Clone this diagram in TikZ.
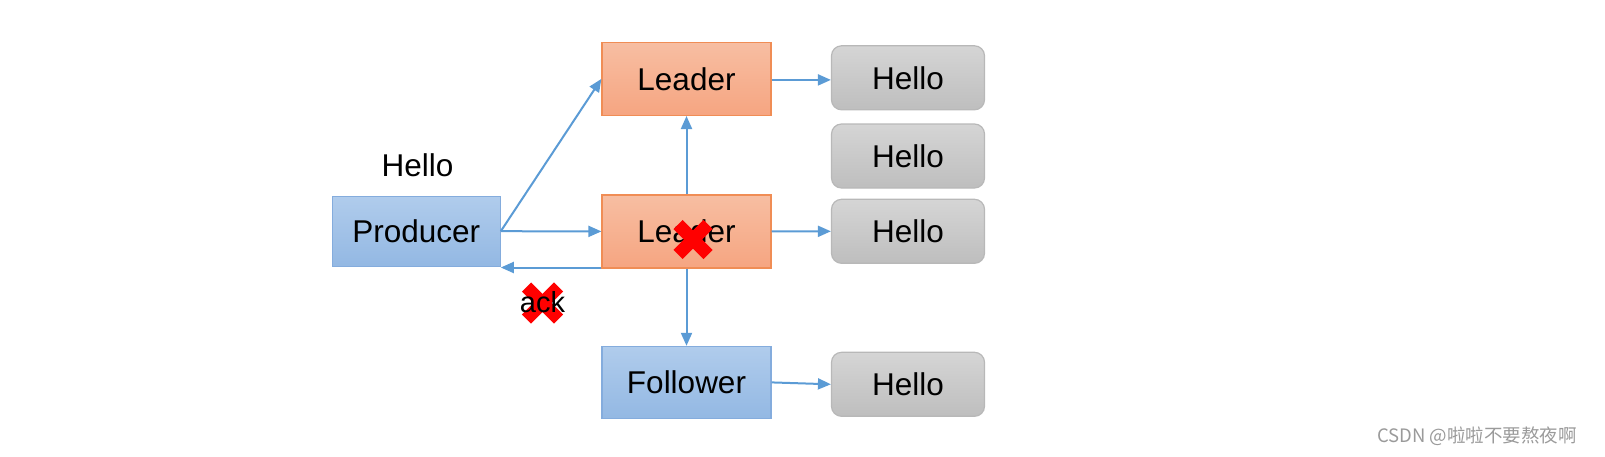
\documentclass[tikz,border=0pt]{standalone}
\usepackage{fontspec}
\setmainfont{Liberation Sans}
\newfontfamily\cjkfont{Noto Sans CJK SC}
\usetikzlibrary{arrows.meta}
\definecolor{arrowblue}{HTML}{5B9BD5}
\definecolor{bluetop}{HTML}{B0CCEC}
\definecolor{bluebot}{HTML}{93B8E3}
\definecolor{blueedge}{HTML}{84ACDD}
\definecolor{orgtop}{HTML}{F7BEA2}
\definecolor{orgbot}{HTML}{F6A581}
\definecolor{orgedge}{HTML}{F08D55}
\definecolor{graytop}{HTML}{D5D5D5}
\definecolor{graybot}{HTML}{BEBEBE}
\definecolor{grayedge}{HTML}{B8B8B8}
\definecolor{wmgray}{HTML}{9A9A9A}
\tikzset{
  bigtext/.style={font=\fontsize{31.5}{36}\selectfont, text=black},
  bluebox/.style={bigtext, draw=blueedge, line width=1.2pt, top color=bluetop, bottom color=bluebot, minimum width=168pt, minimum height=70pt, inner sep=0pt},
  orgbox/.style={bigtext, draw=orgedge, line width=1.2pt, top color=orgtop, bottom color=orgbot, minimum width=169pt, minimum height=73pt, inner sep=0pt},
  graybox/.style={bigtext, draw=grayedge, line width=1.2pt, top color=graytop, bottom color=graybot, rounded corners=10pt, minimum width=153pt, minimum height=64pt, inner sep=0pt},
  conn/.style={draw=arrowblue, line width=2pt, -{Triangle[length=13pt,width=11pt]}},
  redx/.style={draw=red, line width=13pt}
}
\begin{document}
\begin{tikzpicture}[x=1pt,y=-1pt]
\useasboundingbox (0,0) rectangle (1605,456);
\node[bluebox] (P) at (416.2,231.2) {Producer};
\node[bigtext] (HL) at (417.6,165.5) {Hello};
\node[orgbox] (L1) at (686.5,78.9) {Leader};
\node[orgbox] (L2) at (686.5,231.4) {Leader};
\node[bluebox, minimum width=169pt, minimum height=72pt] (F) at (686.5,382.4) {Follower};
\node[graybox] (H1) at (908,77.8) {Hello};
\node[graybox] (H2) at (908,156) {Hello};
\node[graybox] (H3) at (908,231.3) {Hello};
\node[graybox] (H4) at (908,384.3) {Hello};
\draw[conn] (P.east) -- (L1.west);
\draw[conn] (P.east) -- (L2.west);
\draw[conn] ([yshift=1pt]L2.south west) -- ([yshift=1pt]P.east |- L2.south west);
\draw[conn] (L2.north) -- (L1.south);
\draw[conn] (L2.south) -- (F.north);
\draw[conn] ([yshift=-1pt]L1.east) -- ([yshift=-1pt]L1.east -| H1.west);
\draw[conn] (L2.east) -- (H3.west);
\draw[conn] (F.east) -- (H4.west);
% red crosses
\coordinate (X1) at (693,239.5);
\draw[redx] ([shift={(-15,-15)}]X1) -- ([shift={(15,15)}]X1);
\draw[redx] ([shift={(15,-15)}]X1) -- ([shift={(-15,15)}]X1);
\coordinate (X2) at (542.5,303);
\draw[redx] ([shift={(-16,-16)}]X2) -- ([shift={(16,16)}]X2);
\draw[redx] ([shift={(16,-16)}]X2) -- ([shift={(-16,16)}]X2);
\node[bigtext, font=\fontsize{29}{34}\selectfont] (ack) at (542.5,302) {ack};
\node[text=wmgray, font=\cjkfont\fontsize{18.5}{22}\selectfont] (wm) at (1477,436) {CSDN @啦啦不要熬夜啊};
\end{tikzpicture}
\end{document}
